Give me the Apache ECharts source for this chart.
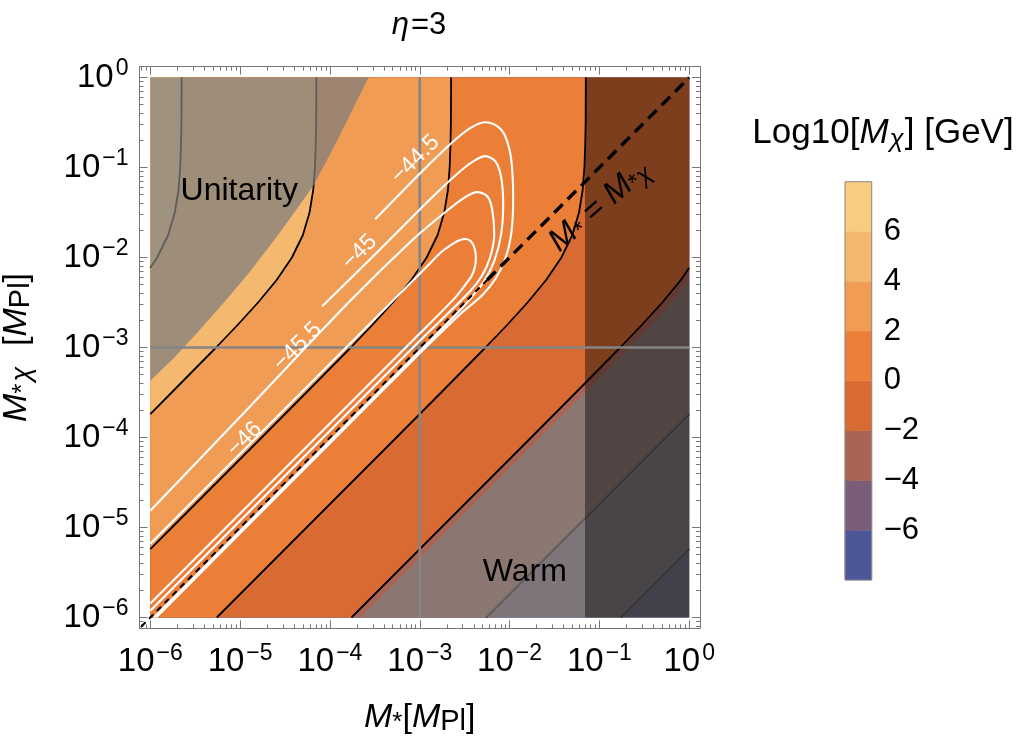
<!DOCTYPE html>
<html>
<head>
<meta charset="utf-8">
<title>eta=3</title>
<script src="https://cdn.jsdelivr.net/npm/echarts@6.0.0/dist/echarts.min.js"></script>
<style>
html,body{margin:0;padding:0;background:#ffffff;}
#chart{width:1028px;height:742px;}
</style>
</head>
<body>
<div id="chart"></div>
<script>
// ================= DATA (log10 values) =================
// axis ticks (exponents of ten)
const xMajorExponents = [-6, -5, -4, -3, -2, -1, 0];
const yMajorExponents = [-6, -5, -4, -3, -2, -1, 0];
const minorMultipliers = [2, 3, 4, 5, 6, 7, 8, 9];
// colour-bar levels of Log10[M_chi]
const colorLevels = [-8, -6, -4, -2, 0, 2, 4, 6, 8];
const colorbarTickValues = [-6, -4, -2, 0, 2, 4, 6];

// black contour lines of Log10[M_chi]  ([log10 M*, log10 M*chi])
const contourP6 = [[-5.651,0],[-5.653,-0.5],[-5.658,-0.75],[-5.667,-1],[-5.686,-1.25],[-5.727,-1.5],[-5.801,-1.75],[-5.923,-2],[-6,-2.113]];
const contourP4 = [[-4.151,0],[-4.153,-0.5],[-4.158,-0.75],[-4.167,-1],[-4.186,-1.25],[-4.227,-1.5],[-4.301,-1.75],[-4.423,-2],[-4.593,-2.25],[-4.8,-2.5],[-5.028,-2.75],[-5.268,-3],[-5.762,-3.5],[-6,-3.74]];
const contourP2 = [[-2.651,0],[-2.653,-0.5],[-2.658,-0.75],[-2.667,-1],[-2.686,-1.25],[-2.727,-1.5],[-2.801,-1.75],[-2.923,-2],[-3.093,-2.25],[-3.3,-2.5],[-3.528,-2.75],[-3.768,-3],[-4.262,-3.5],[-4.76,-4],[-5.76,-5],[-6,-5.24]];
const contour0  = [[-1.151,0],[-1.153,-0.5],[-1.158,-0.75],[-1.167,-1],[-1.186,-1.25],[-1.227,-1.5],[-1.301,-1.75],[-1.423,-2],[-1.593,-2.25],[-1.8,-2.5],[-2.028,-2.75],[-2.268,-3],[-2.762,-3.5],[-3.26,-4],[-4.26,-5],[-5.26,-6]];
const contourM2 = [[0,-2.113],[-0.093,-2.25],[-0.3,-2.5],[-0.528,-2.75],[-0.768,-3],[-1.262,-3.5],[-1.76,-4],[-2.76,-5],[-3.76,-6]];
const contourM4 = [[0,-3.74],[-0.26,-4],[-1.26,-5],[-2.26,-6]];
const contourM6 = [[0,-5.24],[-0.76,-6]];

// excluded regions
const unitarityEdge = [[-3.57,0],[-3.75,-0.36],[-3.95,-0.76],[-4.183,-1.2],[-4.41,-1.52],[-4.63,-1.82],[-4.9,-2.17],[-5.18,-2.5],[-5.48,-2.84],[-5.74,-3.12],[-6,-3.37]];
const warmEdge = [[0,-2.258],[-0.2,-2.5],[-0.428,-2.75],[-0.668,-3],[-1.162,-3.5],[-1.66,-4],[-2.66,-5],[-3.66,-6]];
const darkBandStart = -1.16;

// reference lines
const crossU = -3;
const crossV = -3;
const diagonalThick = [[-2.25,-2.25],[0,0]];
const diagonalThin = [[-6.1,-6.1],[-2.25,-2.25]];

// white contours (cross-section levels)
const sigma445 = [[-3.496,-1.574],[-2.995,-1.063],[-2.661,-0.741],[-2.439,-0.563],[-2.272,-0.497],[-2.138,-0.541],[-2.049,-0.652],[-1.982,-0.908],[-1.96,-1.352],[-1.982,-1.741],[-2.049,-2.019],[-2.16,-2.241],[-2.305,-2.419],[-2.55,-2.63],[-3,-3.065],[-4,-4.065],[-5,-5.065],[-5.935,-6]];
const sigma450 = [[-4.086,-2.541],[-3.44,-1.908],[-2.884,-1.352],[-2.55,-1.041],[-2.383,-0.919],[-2.272,-0.874],[-2.16,-0.93],[-2.094,-1.108],[-2.071,-1.408],[-2.094,-1.741],[-2.171,-2.041],[-2.283,-2.263],[-2.439,-2.463],[-2.605,-2.641],[-3,-3.04],[-4,-4.04],[-5,-5.04],[-5.96,-6]];
const sigma455 = [[-6,-4.814],[-4.887,-3.652],[-3.774,-2.481],[-3.073,-1.797],[-2.717,-1.497],[-2.494,-1.33],[-2.361,-1.274],[-2.249,-1.319],[-2.194,-1.463],[-2.171,-1.741],[-2.216,-1.997],[-2.305,-2.197],[-2.439,-2.374],[-3,-2.925],[-4,-3.925],[-5,-4.925],[-6,-5.925]];
const sigma460 = [[-6,-5.18],[-5,-4.18],[-4,-3.18],[-3.3,-2.48],[-2.95,-2.13],[-2.75,-1.93],[-2.62,-1.84],[-2.55,-1.805],[-2.49,-1.795],[-2.43,-1.82],[-2.39,-1.9],[-2.375,-2.0],[-2.385,-2.1],[-2.42,-2.2],[-2.49,-2.3],[-2.6,-2.44],[-3,-2.845],[-4,-3.845],[-5,-4.845],[-6,-5.845]];

// text annotations anchored in data space
const regionNotes = [
  {text: 'Unitarity', u: -5.01, v: -1.26},
  {text: 'Warm', u: -1.83, v: -5.5}
];
const sigmaLabels = [
  {text: '\u221244.5', u: -3.05, v: -0.91},
  {text: '\u221245',   u: -3.67, v: -1.94},
  {text: '\u221245.5', u: -4.36, v: -2.99},
  {text: '\u221246',   u: -4.95, v: -4.02}
];
const diagonalNote = {u: -1.0, v: -1.43};

// ================= STYLE =================
const FONT = '"Liberation Sans", Arial, Helvetica, sans-serif';
const bandColors = ['#4c5699','#7a5d78','#a96455','#d86b34','#ec7f38','#f19c55','#f4b86e','#f7cd82'];
const frameColor = '#777777';
const AX = {min: -6.12, max: 0.12};

const minorTicks = [];
for (let n = -7; n <= 0; n++) {
  for (const k of minorMultipliers) {
    const t = n + Math.log10(k);
    if (t > AX.min && t < AX.max) minorTicks.push(t);
  }
}

// filled regions: Log10[M_chi] greater than each level (painted from low to high)
const fillRegions = [
  [[-6,0],[0,0],[0,-6],[-6,-6]],
  [[-6,0],[0,0]].concat(contourM6, [[-6,-6]]),
  [[-6,0],[0,0]].concat(contourM4, [[-6,-6]]),
  [[-6,0],[0,0]].concat(contourM2, [[-6,-6]]),
  [[-6,0]].concat(contour0, [[-6,-6]]),
  [[-6,0]].concat(contourP2),
  [[-6,0]].concat(contourP4),
  [[-6,0]].concat(contourP6)
];
const overlayRegions = [
  [[-6,0]].concat(unitarityEdge),
  warmEdge.concat([[0,-6]]),
  [[darkBandStart,0],[0,0],[0,-6],[darkBandStart,-6]]
];
const overlayColors = ['rgba(128,126,124,0.74)','rgba(128,126,124,0.74)','rgba(0,0,0,0.42)'];

const powLabel = v => '{b|10}{sup|' + (v < 0 ? '\u2212' + (-v) : String(v)) + '}';
const tickRich = {
  b: {fontFamily: FONT, fontSize: 33, lineHeight: 40, color: '#000'},
  sup: {fontFamily: FONT, fontSize: 23, lineHeight: 18, verticalAlign: 'top', color: '#000', padding: [0, 0, 0, 2]}
};
const nameRich = {
  i: {fontFamily: FONT, fontSize: 34, fontStyle: 'italic', lineHeight: 38, color: '#000'},
  n: {fontFamily: FONT, fontSize: 34, lineHeight: 38, color: '#000'},
  s: {fontFamily: FONT, fontSize: 26, lineHeight: 14, verticalAlign: 'bottom', color: '#000'},
  c: {fontFamily: FONT, fontSize: 27, fontStyle: 'italic', lineHeight: 26, verticalAlign: 'bottom', color: '#000', padding: [0, 2, 0, 2]},
  p: {fontFamily: FONT, fontSize: 29, lineHeight: 29, verticalAlign: 'bottom', color: '#000'}
};

function mainAxis(pos, major, ticks, withLabels, margin) {
  return {
    type: 'value', gridIndex: 0, position: pos, min: AX.min, max: AX.max,
    axisLine: {show: major, onZero: false, lineStyle: {color: frameColor, width: 1}},
    axisTick: {show: true, inside: true, length: major ? 8 : 4, customValues: ticks,
               lineStyle: {color: frameColor, width: 1}},
    axisLabel: withLabels ? {show: true, customValues: ticks, formatter: powLabel, rich: tickRich, margin: margin} : {show: false},
    splitLine: {show: false},
    axisPointer: {show: false}
  };
}

const xBottom = mainAxis('bottom', true, xMajorExponents, true, 14);
xBottom.name = '{i|M}{s|*}{n|[}{i|M}{p|Pl}{n|]}';
xBottom.nameLocation = 'middle';
xBottom.nameGap = 70;
xBottom.nameTextStyle = {rich: nameRich};
const yLeft = mainAxis('left', true, yMajorExponents, true, 11);
yLeft.name = '{i|M}{s|*}{c|\u03c7}{n|  [}{i|M}{p|Pl}{n|]}';
yLeft.nameLocation = 'middle';
yLeft.nameGap = 104;
yLeft.nameTextStyle = {rich: nameRich};

function lineSeries(points, color, width, z, extra) {
  return Object.assign({
    type: 'line', xAxisIndex: 0, yAxisIndex: 0, data: points, symbol: 'none', showSymbol: false,
    silent: true, z: z, animation: false, lineStyle: {color: color, width: width}
  }, extra || {});
}

const series = [];
// filled bands
series.push({
  type: 'custom', xAxisIndex: 0, yAxisIndex: 0, z: 1, silent: true, animation: false,
  data: fillRegions.map(r => r[0]),
  renderItem: (params, api) => ({
    type: 'polygon',
    shape: {points: fillRegions[params.dataIndex].map(p => api.coord(p))},
    style: {fill: bandColors[params.dataIndex]}
  })
});
// black contour lines
[contourP6, contourP4, contourP2, contour0, contourM2, contourM4, contourM6].forEach(c => {
  series.push(lineSeries(c, '#000000', 1.8, 2));
});
// shaded overlays
series.push({
  type: 'custom', xAxisIndex: 0, yAxisIndex: 0, z: 3, silent: true, animation: false,
  data: overlayRegions.map(r => r[0]),
  renderItem: (params, api) => ({
    type: 'polygon',
    shape: {points: overlayRegions[params.dataIndex].map(p => api.coord(p))},
    style: {fill: overlayColors[params.dataIndex]}
  })
});
// grey reference lines
series.push(lineSeries([[crossU, -6], [crossU, 0]], '#858585', 2.6, 4));
series.push(lineSeries([[-6, crossV], [0, crossV]], '#858585', 2.6, 4));
// white cross-section contours
[sigma445, sigma450, sigma455, sigma460].forEach(c => {
  series.push(lineSeries(c, '#ffffff', 2.1, 5, {smooth: 0.3}));
});
// M* = M*chi diagonal
series.push(lineSeries(diagonalThin, '#000000', 2, 6, {lineStyle: {color: '#000', width: 2, type: [6, 5]}}));
series.push(lineSeries(diagonalThick, '#000000', 3.4, 6, {lineStyle: {color: '#000', width: 3.4, type: [12, 7]}}));
// region names
series.push({
  type: 'custom', xAxisIndex: 0, yAxisIndex: 0, z: 7, silent: true, animation: false,
  data: regionNotes.map(t => [t.u, t.v]),
  renderItem: (params, api) => {
    const t = regionNotes[params.dataIndex];
    const p = api.coord([t.u, t.v]);
    return {type: 'text', x: p[0], y: p[1],
      style: {text: t.text, fill: '#000', font: '32px ' + FONT, align: 'center', verticalAlign: 'middle'}};
  }
});
// contour labels
series.push({
  type: 'custom', xAxisIndex: 0, yAxisIndex: 0, z: 7, silent: true, animation: false,
  data: sigmaLabels.map(t => [t.u, t.v]),
  renderItem: (params, api) => {
    const t = sigmaLabels[params.dataIndex];
    const p = api.coord([t.u, t.v]);
    return {type: 'text', x: p[0], y: p[1], rotation: Math.PI / 4,
      style: {text: t.text, fill: '#ffffff', font: '23px ' + FONT, align: 'center', verticalAlign: 'middle'}};
  }
});
// diagonal label
series.push({
  type: 'custom', xAxisIndex: 0, yAxisIndex: 0, z: 7, silent: true, animation: false,
  data: [[diagonalNote.u, diagonalNote.v]],
  renderItem: (params, api) => {
    const p = api.coord([diagonalNote.u, diagonalNote.v]);
    return {type: 'text', x: p[0], y: p[1], rotation: 41 * Math.PI / 180,
      style: {text: '{i|M}{s|*}{n| = }{i|M}{s|*}{c|\u03c7}', fill: '#000', align: 'center', verticalAlign: 'middle',
        rich: {
          i: {fontFamily: FONT, fontSize: 32, fontStyle: 'italic', lineHeight: 36, fill: '#000'},
          n: {fontFamily: FONT, fontSize: 32, lineHeight: 36, fill: '#000'},
          s: {fontFamily: FONT, fontSize: 24, lineHeight: 13, verticalAlign: 'bottom', fill: '#000'},
          c: {fontFamily: FONT, fontSize: 24, fontStyle: 'italic', lineHeight: 24, verticalAlign: 'bottom', fill: '#000'}
        }}};
  }
});
// colour bar
series.push({
  type: 'custom', xAxisIndex: 4, yAxisIndex: 4, z: 2, silent: true, animation: false,
  data: bandColors.map((c, i) => [0, colorLevels[i]]),
  renderItem: (params, api) => {
    const i = params.dataIndex;
    const a = api.coord([0, colorLevels[i]]);
    const b = api.coord([1, colorLevels[i + 1]]);
    return {type: 'rect', shape: {x: a[0], y: b[1], width: b[0] - a[0], height: a[1] - b[1]},
      style: {fill: bandColors[i], stroke: bandColors[i], lineWidth: 0.6}};
  }
});
series.push({
  type: 'custom', xAxisIndex: 4, yAxisIndex: 4, z: 3, silent: true, animation: false,
  data: [[0, colorLevels[0]]],
  renderItem: (params, api) => {
    const a = api.coord([0, colorLevels[0]]);
    const b = api.coord([1, colorLevels[colorLevels.length - 1]]);
    return {type: 'rect', shape: {x: a[0], y: b[1], width: b[0] - a[0], height: a[1] - b[1]},
      style: {fill: 'none', stroke: '#8c8c8c', lineWidth: 1}};
  }
});

const option = {
  animation: false,
  backgroundColor: '#ffffff',
  grid: [
    {left: 139.5, top: 66.7, width: 560.5, height: 561.6, show: false, containLabel: false, outerBoundsMode: 'none'},
    {left: 845, top: 181.7, width: 26.7, height: 398.3, show: false, containLabel: false, outerBoundsMode: 'none'}
  ],
  xAxis: [
    xBottom,
    mainAxis('bottom', false, minorTicks, false),
    mainAxis('top', true, xMajorExponents, false),
    mainAxis('top', false, minorTicks, false),
    {type: 'value', gridIndex: 1, min: 0, max: 1, show: false}
  ],
  yAxis: [
    yLeft,
    mainAxis('left', false, minorTicks, false),
    mainAxis('right', true, yMajorExponents, false),
    mainAxis('right', false, minorTicks, false),
    {type: 'value', gridIndex: 1, position: 'right', min: -8, max: 8, interval: 2,
     axisLine: {show: false},
     axisTick: {show: true, inside: false, length: 7, customValues: colorbarTickValues, lineStyle: {color: '#666', width: 1}},
     axisLabel: {show: true, customValues: colorbarTickValues, margin: 12,
       formatter: v => (v < 0 ? '\u2212' + (-v) : String(v)),
       fontFamily: FONT, fontSize: 31, color: '#000'},
     splitLine: {show: false}}
  ],
  graphic: [
    {type: 'text', x: 419, y: 25, silent: true,
     style: {text: '{i|\u03b7}{n|=3}', fill: '#000', align: 'center', verticalAlign: 'middle',
       rich: {i: {fontFamily: FONT, fontSize: 31, fontStyle: 'italic', fill: '#000', padding: [0, 2, 0, 0]},
              n: {fontFamily: FONT, fontSize: 31, fill: '#000'}}}},
    {type: 'text', x: 883, y: 133, silent: true,
     style: {text: '{n|Log10[}{i|M}{c|\u03c7}{n|] [GeV]}', fill: '#000', align: 'center', verticalAlign: 'middle',
       rich: {n: {fontFamily: FONT, fontSize: 35, lineHeight: 40, fill: '#000'},
              i: {fontFamily: FONT, fontSize: 35, fontStyle: 'italic', lineHeight: 40, fill: '#000'},
              c: {fontFamily: FONT, fontSize: 26, fontStyle: 'italic', lineHeight: 26, verticalAlign: 'bottom', fill: '#000', padding: [0, 1, 0, 1]}}}}
  ],
  series: series
};

const chart = echarts.init(document.getElementById('chart'), null, {renderer: 'canvas'});
chart.setOption(option);
</script>
</body>
</html>
